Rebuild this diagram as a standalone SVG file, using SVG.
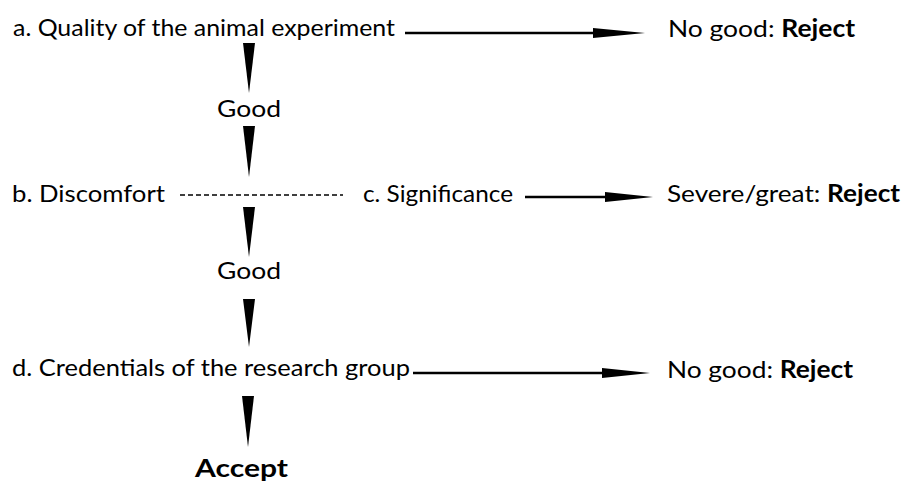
<svg xmlns="http://www.w3.org/2000/svg" width="909" height="481" viewBox="0 0 909 481">
<style>
  text { font-family: Lato, "Open Sans", "Liberation Sans", sans-serif; font-size: 24px; fill: #000; }
  .b { font-weight: bold; }
  .ln { stroke: #000; stroke-width: 2.5; fill: none; }
  .dash { stroke: #000; stroke-width: 1.5; stroke-dasharray: 5 3; fill: none; }
  .head { fill: #000; }
</style>
<rect width="909" height="481" fill="#fff"/>
<g id="connectors">
  <line class="ln" x1="405" y1="33" x2="600" y2="33"/>
  <polygon class="head" points="593,28 645,33 593,38"/>
  <line class="dash" x1="180" y1="195" x2="343" y2="195"/>
  <line class="ln" x1="525" y1="197" x2="610" y2="197"/>
  <polygon class="head" points="605,192 653,197 605,202"/>
  <line class="ln" x1="413" y1="373" x2="607" y2="373"/>
  <polygon class="head" points="602,368 650,373 602,378"/>
  <polygon class="head" points="243,43 255,43 249,93"/>
  <polygon class="head" points="243,126 255,126 249,177"/>
  <polygon class="head" points="243,207 255,207 249,257"/>
  <polygon class="head" points="243,299 255,299 249,347"/>
  <polygon class="head" points="242,396 254,396 248,447"/>
</g>
<g id="node-a"><text x="13" y="36" textLength="382" lengthAdjust="spacingAndGlyphs">a. Quality of the animal experiment</text></g>
<g id="node-reject-a"><text x="668" y="37" textLength="187" lengthAdjust="spacingAndGlyphs">No good: <tspan class="b">Reject</tspan></text></g>
<g id="node-good-1"><text x="217" y="117" textLength="64" lengthAdjust="spacingAndGlyphs">Good</text></g>
<g id="node-b"><text x="12" y="202" textLength="153" lengthAdjust="spacingAndGlyphs">b. Discomfort</text></g>
<g id="node-c"><text x="363" y="202" textLength="150" lengthAdjust="spacingAndGlyphs">c. Significance</text></g>
<g id="node-reject-c"><text x="667" y="202" textLength="233" lengthAdjust="spacingAndGlyphs">Severe/great: <tspan class="b">Reject</tspan></text></g>
<g id="node-good-2"><text x="217" y="279" textLength="64" lengthAdjust="spacingAndGlyphs">Good</text></g>
<g id="node-d"><text x="12" y="376" textLength="398" lengthAdjust="spacingAndGlyphs">d. Credentials of the research group</text></g>
<g id="node-reject-d"><text x="667" y="378" textLength="186" lengthAdjust="spacingAndGlyphs">No good: <tspan class="b">Reject</tspan></text></g>
<g id="node-accept"><text class="b" x="195" y="477" textLength="93" lengthAdjust="spacingAndGlyphs">Accept</text></g>
</svg>
